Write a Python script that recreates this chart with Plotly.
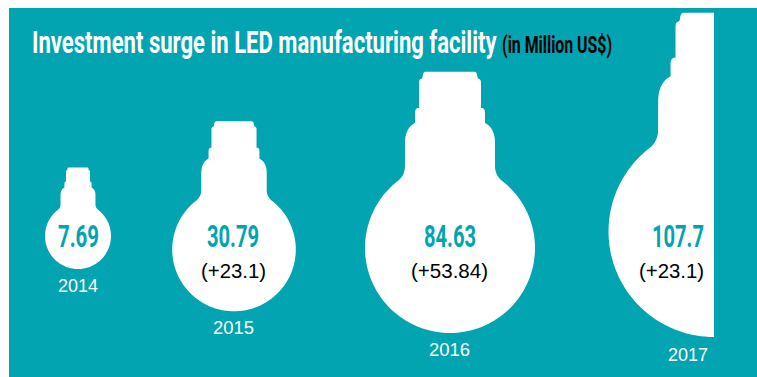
import json
import numpy as np
import plotly.graph_objects as go

# Investment figures, in million US$
years = ["2014", "2015", "2016", "2017"]
investment = [7.69, 30.79, 84.63, 107.7]
increase = [None, 23.1, 53.84, 23.1]

title_text = "Investment surge in LED manufacturing facility"
unit_text = "(in Million US$)"

# Bulb placement on the canvas: centre x, centre y, globe radius
bulb_cx = [78, 234, 450, 714]
bulb_cy = [236, 249.5, 248, 231.5]
bulb_r = [33, 61.8, 85, 105.5]
clip_right = 714

TEAL = "#01A4B0"
HEAD = "Roboto, Liberation Sans, sans-serif"
BODY = "Liberation Sans, Helvetica, Arial, sans-serif"


def quad(p0, p1, p2, n=10):
    t = np.linspace(0, 1, n)[:, None]
    return (1 - t) ** 2 * np.array(p0) + 2 * t * (1 - t) * np.array(p1) + t ** 2 * np.array(p2)


def bulb_outline():
    """Right half of a bulb for a globe of radius 85, mirrored into a closed path."""
    parts = [
        np.array([[0, -176.3], [24.5, -176.3]]),
        quad((24.5, -176.3), (27, -176), (27.3, -172)),
        quad((27.3, -172), (27.5, -169.5), (29, -169)),
        quad((29, -169), (31, -168.5), (31, -165)),
        np.array([[31, -140]]),
        quad((31.5, -140), (35, -140), (35, -135)),
        np.array([[35, -125]]),
        quad((36, -124.5), (45, -119), (45, -105)),
        np.array([[45, -82]]),
        quad((45, -82), (45, -73), (51.7, -67.5)),
    ]
    ang = np.linspace(np.arcsin(-67.5 / 85), np.pi / 2, 60)
    parts.append(np.column_stack([85 * np.cos(ang), 85 * np.sin(ang)]))
    right = np.vstack(parts)
    left = right[::-1] * np.array([-1, 1])
    return np.vstack([right, left])


outline = bulb_outline()
fig = go.Figure()

for year, cx, cy, r in zip(years, bulb_cx, bulb_cy, bulb_r):
    pts = outline * r / 85
    fig.add_trace(go.Scatter(
        x=np.minimum(pts[:, 0] + cx, clip_right), y=pts[:, 1] + cy,
        mode="lines", fill="toself", fillcolor="white",
        line=dict(width=0, color="white", simplify=False), hoverinfo="skip", name=year,
    ))

# Label centres on the canvas and the width each string is fitted to
value_x = [78.5, 233, 450, 678]
delta_x = [None, 233.5, 449.5, 671.5]
year_x = [78, 233.5, 449.5, 688]
year_y = [285.7, 327.5, 349.5, 355]

value_w = [41, 52, 52, 52]
delta_w = [None, 65, 77, 65]
year_w = [40, 41, 41, 40]

texts, fitted = [], {}


def label(text, x, y, size, color, family, weight, width):
    texts.append(dict(
        text=text, x=x, y=y, xref="x", yref="y", xanchor="center", yanchor="middle",
        width=width + 4, align="center", showarrow=False,
        font=dict(family=family, size=size, color=color, weight=weight),
    ))


# Headline and its unit share one line and one baseline
label(f'{title_text} <span style="font-size:23px;color:black">{unit_text}</span>',
      322, 41.5, 32, "white", HEAD, 700, 580)
fitted[f"{title_text} {unit_text}"] = 580

for i, year in enumerate(years):
    value = f"{investment[i]}"
    label(value, value_x[i], 235.5, 32, TEAL, HEAD, 700, value_w[i])
    fitted[value] = value_w[i]
    if increase[i] is not None:
        delta = f"(+{increase[i]})"
        label(delta, delta_x[i], 270, 20.5, "black", BODY, 400, delta_w[i])
        fitted[delta] = delta_w[i]
    label(year, year_x[i], year_y[i], 18, "white", BODY, 400, year_w[i])
    fitted[year] = year_w[i]

fig.update_layout(
    width=757, height=377, autosize=False,
    margin=dict(l=0, r=0, t=0, b=0),
    paper_bgcolor="white", plot_bgcolor="rgba(0,0,0,0)",
    showlegend=False, hovermode=False,
    xaxis=dict(range=[0, 757], visible=False, fixedrange=True),
    yaxis=dict(range=[377, 0], visible=False, fixedrange=True),
    shapes=[dict(type="rect", xref="x", yref="y", x0=9, x1=757, y0=8, y1=377,
                 fillcolor=TEAL, line=dict(width=0), layer="below")],
    annotations=texts,
)

# The condensed display lettering is fitted to its set widths once the page has drawn
fit_script = """
var widths = %s;
document.querySelectorAll('.annotation-text').forEach(function (el) {
  var w = widths[el.textContent];
  if (w) { el.setAttribute('textLength', w); el.setAttribute('lengthAdjust', 'spacingAndGlyphs'); }
});
""" % json.dumps(fitted)

fig.write_html("out.html", post_script=fit_script, config=dict(displayModeBar=False))
